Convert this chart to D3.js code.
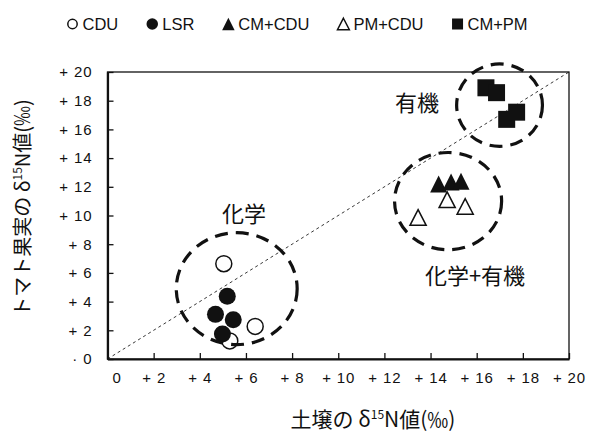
<!DOCTYPE html>
<html lang="ja">
<head>
<meta charset="utf-8">
<title>δ15N 土壌とトマト果実</title>
<script src="https://d3js.org/d3.v7.min.js"></script>
<style>
  body { margin: 0; background: #fff; }
  svg { display: block; }
  .tick text { font-family: "Liberation Sans", Arial, sans-serif; font-size: 15px; letter-spacing: 0.9px; fill: #111; }
  .legend text { font-family: "Liberation Sans", Arial, sans-serif; font-size: 16.5px; fill: #111; }
  .jp { font-family: "Noto Sans CJK JP", sans-serif; fill: #111; }
</style>
</head>
<body>
<svg width="598" height="436"></svg>
<script>
// series (soil δ15N, fruit δ15N)
const seriesNames = ["CDU", "LSR", "CM+CDU", "PM+CDU", "CM+PM"];
const cduX = [5.04, 6.4, 5.3];
const cduY = [6.64, 2.27, 1.26];
const lsrX = [5.19, 4.68, 5.45, 4.98];
const lsrY = [4.37, 3.11, 2.73, 1.75];
const cmcduX = [14.35, 14.89, 15.32];
const cmcduY = [12.2, 12.34, 12.38];
const pmcduX = [14.72, 15.5, 13.46];
const pmcduY = [11.1, 10.63, 9.86];
const cmpmX = [16.4, 16.86, 17.3, 17.73];
const cmpmY = [18.9, 18.56, 16.7, 17.2];

// grouping ellipses: centre and radii in data units
const groupLabels = ["化学", "化学+有機", "有機"];
const groupCx = [5.6, 14.76, 16.99];
const groupCy = [4.9, 11.0, 17.69];
const groupRx = [2.62, 2.32, 1.86];
const groupRy = [3.9, 3.39, 2.87];

const tickValues = [0, 2, 4, 6, 8, 10, 12, 14, 16, 18, 20];

const svg = d3.select("svg");
const plotL = 107.5, plotR = 569, plotT = 72, plotB = 359;

const x = d3.scaleLinear().domain([0, 20]).range([plotL, plotR]);
const y = d3.scaleLinear().domain([0, 20]).range([plotB, plotT]);

// 1:1 line
svg.append("line")
  .attr("x1", x(0)).attr("y1", y(0))
  .attr("x2", x(20)).attr("y2", y(20))
  .attr("stroke", "#222")
  .attr("stroke-width", 0.9)
  .attr("stroke-dasharray", "3,3");

// frame
svg.append("rect")
  .attr("x", plotL).attr("y", plotT)
  .attr("width", plotR - plotL).attr("height", plotB - plotT)
  .attr("fill", "none")
  .attr("stroke", "#111")
  .attr("stroke-width", 1.3);

// axes
const xAxis = svg.append("g")
  .attr("transform", `translate(0,${plotB})`)
  .call(d3.axisBottom(x).tickValues(tickValues).tickSizeInner(-6).tickSizeOuter(0).tickPadding(13)
    .tickFormat(d => d === 0 ? "0" : "+ " + d));
xAxis.select(".domain").attr("stroke", "#111").attr("stroke-width", 2.2);
xAxis.selectAll(".tick line").attr("stroke", "#111").attr("stroke-width", 1.3);
xAxis.selectAll(".tick text").filter(d => d === 0).attr("dx", "9px");

const yAxis = svg.append("g")
  .attr("transform", `translate(${plotL},0)`)
  .call(d3.axisLeft(y).tickValues(tickValues).tickSizeInner(-6).tickSizeOuter(0).tickPadding(15)
    .tickFormat(d => d === 0 ? "· 0" : "+ " + d));
yAxis.select(".domain").attr("stroke", "#111").attr("stroke-width", 2.2);
yAxis.selectAll(".tick line").attr("stroke", "#111").attr("stroke-width", 1.3);

// marker shapes
function triPath(w, h) {
  return `M0,${-h / 2}L${w / 2},${h / 2}L${-w / 2},${h / 2}Z`;
}
function drawMarker(sel, kind, s) {
  if (kind === "CDU") {
    sel.append("circle").attr("r", s * 0.47).attr("fill", "#fff").attr("stroke", "#111").attr("stroke-width", 1.5);
  } else if (kind === "LSR") {
    sel.append("circle").attr("r", s * 0.5).attr("fill", "#111");
  } else if (kind === "CM+CDU") {
    sel.append("path").attr("d", triPath(s, s)).attr("fill", "#111");
  } else if (kind === "PM+CDU") {
    sel.append("path").attr("d", triPath(s * 0.95, s * 0.92)).attr("fill", "#fff").attr("stroke", "#111").attr("stroke-width", 1.5);
  } else {
    sel.append("rect").attr("x", -s / 2).attr("y", -s / 2).attr("width", s).attr("height", s).attr("fill", "#111");
  }
}

const seriesX = [cduX, lsrX, cmcduX, pmcduX, cmpmX];
const seriesY = [cduY, lsrY, cmcduY, pmcduY, cmpmY];

seriesNames.forEach((name, k) => {
  const pts = seriesX[k].map((v, i) => [v, seriesY[k][i]]);
  svg.append("g").selectAll("g")
    .data(pts)
    .join("g")
    .attr("transform", d => `translate(${x(d[0])},${y(d[1])})`)
    .each(function () { drawMarker(d3.select(this), name, 17); });
});

// dashed group ellipses
svg.append("g").selectAll("ellipse")
  .data(groupCx)
  .join("ellipse")
  .attr("cx", d => x(d))
  .attr("cy", (d, i) => y(groupCy[i]))
  .attr("rx", (d, i) => x(groupRx[i]) - x(0))
  .attr("ry", (d, i) => y(0) - y(groupRy[i]))
  .attr("fill", "none")
  .attr("stroke", "#111")
  .attr("stroke-width", 3.2)
  .attr("stroke-dasharray", "13,8");

// group labels
const labelPos = [[244, 222], [475, 284], [417, 111]];
svg.append("g").selectAll("text")
  .data(groupLabels)
  .join("text")
  .attr("class", "jp")
  .attr("x", (d, i) => labelPos[i][0])
  .attr("y", (d, i) => labelPos[i][1])
  .attr("text-anchor", "middle")
  .attr("font-size", "22px")
  .text(d => d);

// legend
const legend = svg.append("g").attr("class", "legend");
let lx = 72.5;
seriesNames.forEach(name => {
  const item = legend.append("g").attr("transform", `translate(${lx},24)`);
  drawMarker(item, name, name === "CDU" ? 10 : name === "LSR" ? 11.5 : name === "CM+PM" ? 11 : 12.5);
  const t = item.append("text").attr("x", 10).attr("y", 6).text(name);
  lx += 10 + t.node().getComputedTextLength() + 34;
});

// axis titles
const xt = svg.append("text").attr("class", "jp")
  .attr("x", 373).attr("y", 427)
  .attr("text-anchor", "middle")
  .attr("font-size", "21px");
xt.append("tspan").text("土壌の δ");
xt.append("tspan").attr("font-size", "12px").attr("dy", "-8").text("15");
xt.append("tspan").attr("dy", "8").text("N値(‰)");

const yt = svg.append("text").attr("class", "jp")
  .attr("transform", "translate(30,208) rotate(-90)")
  .attr("text-anchor", "middle")
  .attr("font-size", "20px");
yt.append("tspan").text("トマト果実の δ");
yt.append("tspan").attr("font-size", "12px").attr("dy", "-8").text("15");
yt.append("tspan").attr("dy", "8").text("N値(‰)");
</script>
</body>
</html>
